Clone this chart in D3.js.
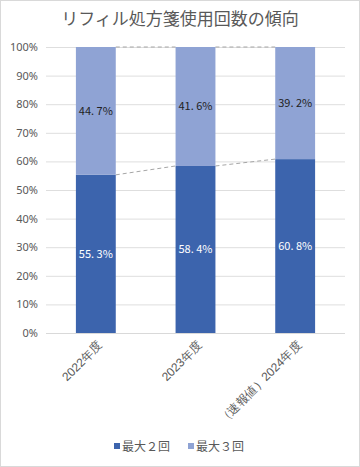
<!DOCTYPE html>
<html><head><meta charset="utf-8">
<script src="https://cdn.jsdelivr.net/npm/d3@7"></script>
<style>
html,body{margin:0;padding:0;background:#fff;}
svg{display:block;font-family:"Noto Sans CJK JP","Noto Sans",sans-serif;}
</style></head>
<body><svg id="c" width="360" height="467"></svg>
<script>
const categories = ["2022年度", "2023年度", "（速報値）2024年度"];
const seriesNames = ["最大２回", "最大３回"];
const max2 = [55.3, 58.4, 60.8];
const max3 = [44.7, 41.6, 39.2];
const yTicks = [0,10,20,30,40,50,60,70,80,90,100];
const colors = ["#3c64ad", "#8fa3d4"];

const svg = d3.select("#c");
const W = 360, H = 467;
svg.append("rect").attr("x",0.5).attr("y",0.5).attr("width",W-1).attr("height",H-1)
  .attr("fill","#fff").attr("stroke","#d9d9d9");

const m = {l:46, r:15, t:47, b:134};
const x = d3.scaleBand().domain(categories).range([m.l, W-m.r]).paddingInner(0.6).paddingOuter(0.3);
const y = d3.scaleLinear().domain([0,100]).range([H-m.b, m.t]);

svg.append("text").attr("x",W/2).attr("y",25).attr("text-anchor","middle")
  .attr("font-size",17).attr("fill","#595959").text("リフィル処方箋使用回数の傾向");

// grid
const gy = svg.append("g").attr("transform",`translate(${m.l},0)`)
  .call(d3.axisLeft(y).tickValues(yTicks).tickFormat(d=>d+"%").tickSize(-(W-m.r-m.l)).tickPadding(8));
gy.select(".domain").remove();
gy.selectAll(".tick line").attr("stroke","#dedede").attr("stroke-width",1);
gy.selectAll(".tick text").attr("fill","#595959").attr("font-size",11).attr("font-family","'Noto Sans',sans-serif");

const data = categories.map((c,i)=>({cat:c, v:[max2[i], max3[i]]}));
const stack = d3.stack().keys([0,1]).value((d,k)=>d.v[k]);
const stacked = stack(data);

// connector lines
const bw = x.bandwidth();
stacked.forEach(s=>{
  for(let i=0;i<categories.length-1;i++){
    svg.append("line")
      .attr("x1", x(categories[i])+bw).attr("y1", y(s[i][1]))
      .attr("x2", x(categories[i+1])).attr("y2", y(s[i+1][1]))
      .attr("stroke","#a6a6a6").attr("stroke-width",1).attr("stroke-dasharray","4,3");
  }
});

stacked.forEach((s,k)=>{
  svg.append("g").selectAll("rect").data(s).join("rect")
    .attr("x",d=>x(d.data.cat)).attr("width",bw)
    .attr("y",d=>y(d[1])).attr("height",d=>y(d[0])-y(d[1]))
    .attr("fill",colors[k]);
  svg.append("g").selectAll("text").data(s).join("text")
    .attr("x",d=>x(d.data.cat)+bw/2).attr("y",d=>(y(d[0])+y(d[1]))/2+4)
    .attr("text-anchor","middle").attr("font-size",11)
    .attr("fill", k===0 ? "#ffffff" : "#222222")
    .text(d=>(d.data.v[k]).toFixed(1).replace(".", ". ")+"%");
});

// x axis baseline
svg.append("line").attr("x1",m.l).attr("x2",W-m.r).attr("y1",y(0)+0.5).attr("y2",y(0)+0.5)
  .attr("stroke","#d9d9d9");

const gx = svg.append("g").attr("transform",`translate(0,${y(0)})`)
  .call(d3.axisBottom(x).tickSize(0).tickPadding(0));
gx.select(".domain").remove();
gx.selectAll(".tick text")
  .attr("font-size",12).attr("fill","#595959")
  .attr("text-anchor","end").attr("dy",0)
  .attr("transform","translate(7,13) rotate(-45)");

// legend
const leg = svg.append("g").attr("transform","translate(0,447)");
const lx = [114, 188];
seriesNames.forEach((n,i)=>{
  leg.append("rect").attr("x",lx[i]).attr("y",-4).attr("width",6).attr("height",6).attr("fill",colors[i]);
  leg.append("text").attr("x",lx[i]+8).attr("y",4).attr("font-size",12).attr("fill","#595959").text(n);
});
</script></body></html>
